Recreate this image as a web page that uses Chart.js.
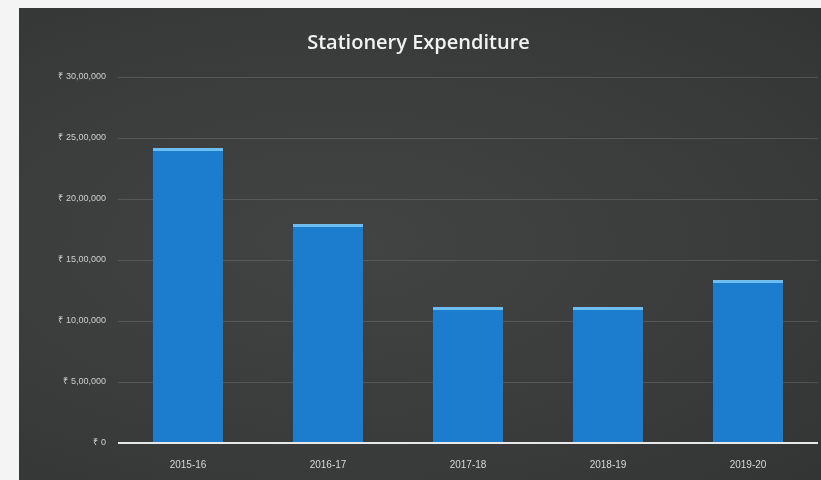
<!DOCTYPE html>
<html>
<head>
<meta charset="utf-8">
<script src="https://cdn.jsdelivr.net/npm/chart.js@4/dist/chart.umd.min.js"></script>
<style>
  body { margin:0; background:#f4f4f4; }
  #box { position:absolute; left:19px; top:8px; width:802px; height:472px;
         background: radial-gradient(ellipse at 40% 50%, #414443 0%, #393c3b 60%, #323534 100%); }
</style>
</head>
<body>
<div id="box"><canvas id="chart" width="802" height="472"></canvas></div>
<script>
var years = ['2015-16','2016-17','2017-18','2018-19','2019-20'];
var expenditure = [2418000, 1795000, 1115000, 1115000, 1336000];
var tickStep = 500000;
var tickMax = 3000000;

function inr(v) {
  var s = String(Math.round(v));
  if (s.length <= 3) return '₹ ' + s;
  var last3 = s.slice(-3);
  var rest = s.slice(0, -3).replace(/\B(?=(\d{2})+(?!\d))/g, ',');
  return '₹ ' + rest + ',' + last3;
}

var chart = new Chart(document.getElementById('chart'), {
  type:'bar',
  data: {
    labels: years,
    datasets: [{
      label:'Expenditure',
      data: expenditure,
      backgroundColor:'#1c7dcf',
      borderColor:'#6cbdf0',
      borderWidth:{top:3, left:0, right:0, bottom:0},
      borderSkipped:false,
      barPercentage:0.5,
      categoryPercentage:1.0
    }]
  },
  options: {
    responsive:false,
    animation:false,
    layout:{ padding:{ left:0, right:3, top:0, bottom:0 } },
    plugins: {
      legend:{ display:false },
      title:{
        display:true,
        text:'Stationery Expenditure',
        color:'#f2f2f2',
        font:{ family:'Open Sans', size:20, weight:'600' },
        padding:{ top:23, bottom:22 }
      }
    },
    scales: {
      x: {
        afterFit:function(s){ s.height = 37; },
        grid:{ display:false },
        border:{ display:false },
        ticks:{ color:'#d8d8d8', font:{ family:'Liberation Sans', size:10 }, padding:8 }
      },
      y: {
        min:0, max:tickMax,
        afterFit:function(s){ s.width = 99; },
        grid:{ color:function(c){ return c.tick.value === 0 ? '#e8e8e8' : 'rgba(200,200,200,0.18)'; }, lineWidth:function(c){ return c.tick.value === 0 ? 2 : 1; }, drawTicks:false },
        border:{ display:false },
        ticks:{ stepSize:tickStep, color:'#cfcfcf', font:{ family:'Liberation Sans', size:9 }, padding:12,
                callback:function(v){ return inr(v); } }
      }
    }
  }
});
</script>
</body>
</html>
